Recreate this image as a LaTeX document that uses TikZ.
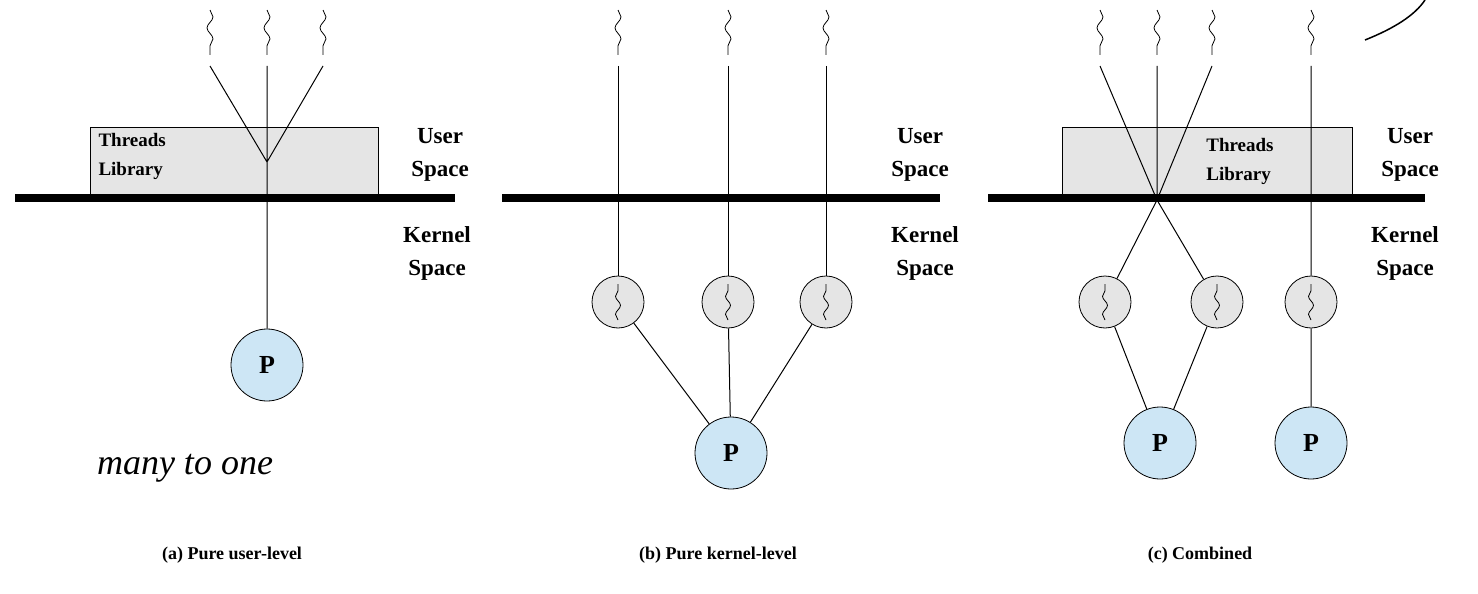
\documentclass[tikz,border=0pt]{standalone}
\usepackage{fontspec}
\setmainfont{Liberation Serif}
\usetikzlibrary{decorations.pathmorphing}
\begin{document}
\begin{tikzpicture}[x=1pt,y=-1pt,
  bar/.style={line width=8pt},
  ln/.style={line width=1pt},
  lib/.style={draw,fill=gray!20,line width=0.8pt},
  kt/.style={circle,draw,fill=gray!20,minimum size=52pt,inner sep=0pt,line width=0.8pt},
  proc/.style={circle,draw,fill={rgb,255:red,205;green,230;blue,245},minimum size=72pt,inner sep=0pt,line width=0.8pt,font=\fontsize{26}{26}\selectfont\bfseries},
  lab/.style={align=center,font=\fontsize{23}{33}\selectfont\bfseries},
  libt/.style={align=left,font=\fontsize{19}{29}\selectfont\bfseries},
  captxt/.style={font=\fontsize{18}{20}\selectfont\bfseries},
  wv/.style={decorate,decoration={snake,segment length=22pt,amplitude=3pt},line width=0.8pt}]
\useasboundingbox (0,0) rectangle (1478,594);
\fill[white] (0,0) rectangle (1478,594);
% ---------- (a)
\foreach \x/\n in {210/a1,267/a2,323/a3}{
  \draw[wv] (\x,10) -- (\x,55);
  \coordinate (\n) at (\x,66);}
\node[lib,minimum width=288pt,minimum height=68pt] (alib) at (234,161) {};
\node[libt,anchor=north west] at (95,130) {Threads\\Library};
\draw[bar] (15,198) -- (455,198);
\coordinate (aj) at (267,162);
\node[proc] (ap) at (267,365) {P};
\draw[ln] (a1) -- (aj) (a2) -- (aj) (a3) -- (aj) (aj) -- (ap);
\node[lab] at (440,155) {User\\Space};
\node[lab] at (437,253) {Kernel\\Space};
\node[font=\fontsize{36}{36}\selectfont\itshape] at (185,468) {many to one};
\node[captxt] at (232,555) {(a) Pure user-level};
% ---------- (b)
\draw[bar] (502,198) -- (940,198);
\node[proc] (bp) at (731,453) {P};
\foreach \x/\n in {618/b1,728/b2,826/b3}{
  \draw[wv] (\x,10) -- (\x,55);
  \node[kt] (\n) at (\x,302) {};
  \draw[wv,decoration={segment length=18pt,amplitude=2.5pt}] ([yshift=-18pt]\n.center) -- ([yshift=18pt]\n.center);
  \draw[ln] (\x,66) -- (\n);
  \draw[ln] (\n) -- (bp);}
\node[lab] at (920,155) {User\\Space};
\node[lab] at (925,253) {Kernel\\Space};
\node[captxt] at (718,555) {(b) Pure kernel-level};
% ---------- (c)
\node[lib,minimum width=290pt,minimum height=68pt] (clib) at (1207,161) {};
\node[libt] at (1240,161) {Threads\\Library};
\draw[bar] (988,198) -- (1425,198);
\coordinate (cj) at (1157,200);
\foreach \x/\n in {1100/c1,1157/c2,1212/c3,1311/c4}{
  \draw[wv] (\x,10) -- (\x,55);
  \coordinate (\n) at (\x,66);}
\draw[ln] (c1) -- (cj) (c2) -- (cj) (c3) -- (cj);
\node[proc] (cp1) at (1160,443) {P};
\node[proc] (cp2) at (1311,443) {P};
\foreach \x/\n in {1105/k1,1217/k2,1311/k3}{
  \node[kt] (\n) at (\x,302) {};
  \draw[wv,decoration={segment length=18pt,amplitude=2.5pt}] ([yshift=-18pt]\n.center) -- ([yshift=18pt]\n.center);}
\draw[ln] (cj) -- (k1) (cj) -- (k2) (c4) -- (k3);
\draw[ln] (k1) -- (cp1) (k2) -- (cp1) (k3) -- (cp2);
\node[lab] at (1410,155) {User\\Space};
\node[lab] at (1405,253) {Kernel\\Space};
\node[captxt] at (1200,555) {(c) Combined};
\draw[line width=1.5pt] (1365,40) .. controls (1395,28) and (1415,15) .. (1425,0);
\end{tikzpicture}
\end{document}
